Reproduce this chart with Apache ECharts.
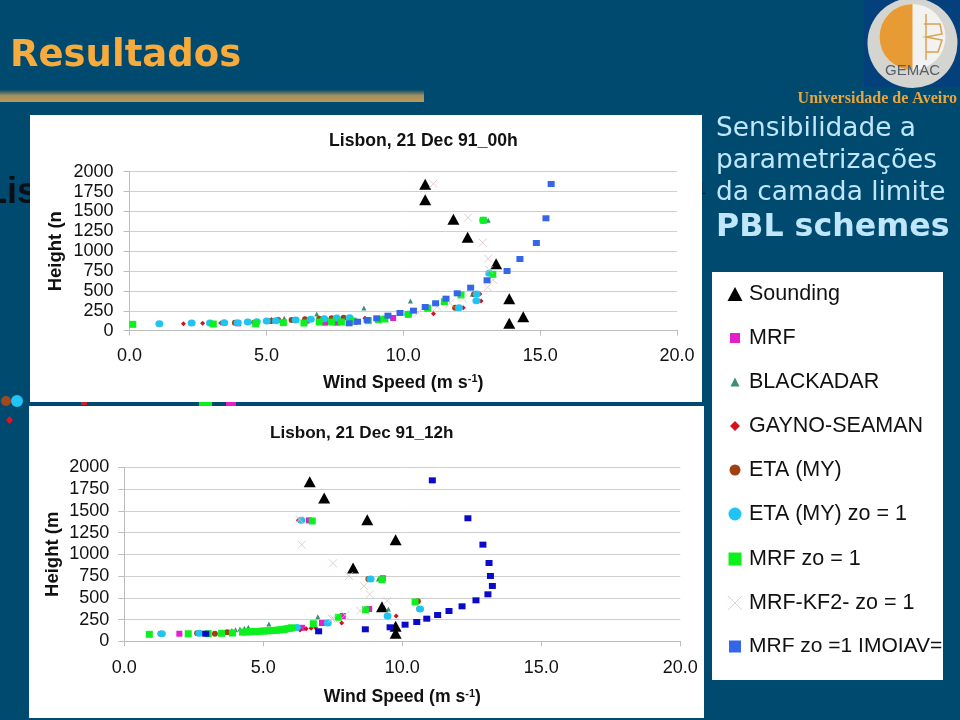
<!DOCTYPE html>
<html><head><meta charset="utf-8">
<style>html,body{margin:0;padding:0;background:#014a6f}#c{width:960px;height:720px}</style>
<script src="https://cdn.jsdelivr.net/npm/echarts@6/dist/echarts.min.js"></script>
</head><body><div id="c"></div>
<script>
const seriesNames=['Sounding','MRF','BLACKADAR','GAYNO-SEAMAN','ETA (MY)','ETA (MY) zo = 1','MRF zo = 1','MRF-KF2- zo = 1','MRF zo =1 IMOIAV='];
const titles=['Lisbon, 21 Dec 91_00h','Lisbon, 21 Dec 91_12h'];

// Chart 1: 00h  [wind speed, height]
const sounding00=[[10.8,1842],[10.8,1648],[11.83,1401],[12.35,1175],[13.39,843],[13.87,403],[14.38,176],[13.87,93]];
const mrf00=[[3.97,93],[6.47,126],[7.14,101],[7.57,101],[8.24,113],[9.63,160]];
const blackadar00=[[5.19,147],[5.43,147],[5.65,156],[6.41,150],[6.84,210],[8.56,285],[10.26,374],[12.52,458],[13.1,1389]];
const gayno00=[[1.97,88],[2.67,93],[3.33,97],[3.91,100],[4.5,106],[5.19,118],[6.41,135],[8.6,156],[11.1,214],[12.19,289],[12.84,374],[12.8,462]];
const eta00=[[3.85,100],[5.17,122],[5.43,135],[5.92,135],[6.41,143],[6.93,151],[7.38,156],[7.82,164],[11.89,290],[12.59,458]];
const etaZo00=[[1.09,88],[2.27,97],[2.94,97],[3.46,100],[3.95,100],[4.32,109],[4.65,113],[5.01,122],[5.35,126],[6.07,135],[6.62,143],[7.11,151],[7.57,160],[8.04,164],[10.18,206],[12.03,290],[12.67,377],[12.68,462],[13.14,722],[12.92,1389]];
const mrfZo00=[[0.12,80],[3.06,84],[4.61,88],[5.62,101],[6.37,97],[6.93,109],[7.38,109],[7.74,109],[8.16,122],[8.72,126],[9.09,138],[9.33,147],[10.18,206],[10.89,282],[11.5,365],[12.11,449],[13.27,709],[12.92,1389]];
const kf00=[[11.1,1849],[12.36,1421],[12.9,1107],[13.1,906],[13.14,764],[13.29,638],[13.08,546],[12.18,403],[11.7,345],[11.24,302],[10.55,226]];
const imo00=[[8.02,93],[8.33,113],[8.68,135],[9.03,156],[9.44,189],[9.88,223],[10.37,252],[10.8,298],[11.18,345],[11.56,403],[11.97,470],[12.46,541],[13.06,634],[13.79,751],[14.26,902],[14.86,1103],[15.21,1414],[15.4,1845]];

// Chart 2: 12h  [wind speed, height]
const sounding12=[[6.67,1835],[7.19,1647],[8.74,1398],[9.76,1168],[8.23,843],[9.27,398],[9.76,172],[9.76,92]];
const mrf12=[[1.98,87],[6.4,155],[7.11,210],[7.86,291],[8.81,371],[9.3,725],[6.64,1390]];
const blackadar12=[[3.87,125],[4.0,133],[4.16,140],[4.32,150],[4.46,161],[5.2,199],[6.96,283],[9.5,371],[9.14,716],[6.3,1400]];
const gayno12=[[4.7,105],[5.06,110],[5.3,113],[5.54,118],[5.78,122],[6.32,130],[6.54,145],[6.72,150],[6.88,156],[7.82,210],[9.78,291],[8.78,716],[6.26,1390]];
const eta12=[[1.3,87],[2.62,92],[3.26,87],[3.7,105],[8.78,716],[10.56,460],[10.61,371]];
const etaZo12=[[1.35,87],[2.7,92],[6.21,160],[7.32,210],[9.47,291],[10.64,371],[8.86,716],[6.37,1390]];
const mrfZo12=[[0.9,80],[2.3,87],[3.02,87],[3.5,92],[3.89,95],[4.25,105],[4.4,108],[4.52,110],[4.66,112],[4.78,113],[4.9,116],[5.02,118],[5.14,120],[5.25,122],[5.36,125],[5.47,127],[5.58,131],[5.68,134],[5.76,138],[5.85,144],[5.94,149],[6.02,155],[6.8,202],[7.7,276],[8.68,363],[10.46,452],[9.27,708],[6.76,1383]];
const kf12=[[7.46,260],[7.94,300],[7.52,264],[8.48,352],[9.46,465],[8.83,540],[8.62,636],[8.08,751],[7.51,897],[6.38,1111],[6.3,1402]];
const imo12=[[2.93,87],[6.99,115],[8.67,138],[9.56,161],[10.1,191],[10.52,222],[10.88,260],[11.27,302],[11.68,348],[12.15,402],[12.65,471],[13.08,540],[13.24,636],[13.17,751],[13.12,900],[12.9,1111],[12.36,1414],[11.08,1850]];

const data00=[sounding00,mrf00,blackadar00,gayno00,eta00,etaZo00,mrfZo00,kf00,imo00];
const data12=[sounding12,mrf12,blackadar12,gayno12,eta12,etaZo12,mrfZo12,kf12,imo12];

const CROSS='path://M0 0L10 10M10 0L0 10';
const colors=['#000000','#e41ecb','#3c8f70','#d8101e','#a04010','#1fc4f2','#0cf01e','#d8c4c4','#3366e8'];
const symbols=['triangle','rect','triangle','diamond','circle','circle','rect',CROSS,'rect'];
const sizes=[[12,11],[6,6],[5,5],[5,5],[6,6],[8,7],[7,7],[8,8],[7,6]];
const legendSizes=[[15,14],[10,10],[9,9],[10,10],[11,11],[13,13],[13,13],[14,14],[12,12]];
const legendRows=[293,337,381,425,469,513,558,602,646];
const font='"Liberation Sans",Arial,sans-serif';

function mkSeries(d,i,k){
  const c=(k===1&&i===8)?'#0a0ac8':colors[i];
  return {name:seriesNames[i],type:'scatter',xAxisIndex:k,yAxisIndex:k,data:d,symbol:symbols[i],symbolSize:sizes[i],z:i+3,
    itemStyle:i===7?{color:'none',borderColor:c,borderWidth:1}:{color:c,opacity:1},emphasis:{disabled:true}};
}
function axes(k,labelMarginX,labelMarginY,nameGapX,nameGapY,nameY,nameSize){
  const lineC='#bdbdbd';
  return {
    x:{type:'value',gridIndex:k,min:0,max:20,interval:5,splitLine:{show:false},
      axisLine:{onZero:false,lineStyle:{color:lineC,width:1}},axisTick:{length:5,lineStyle:{color:lineC}},
      axisLabel:{margin:labelMarginX,fontFamily:font,fontSize:18,color:'#111',formatter:v=>v.toFixed(1)},
      name:'{a|Wind Speed (m s}{s|-1}{a|)}',nameLocation:'middle',nameGap:nameGapX,nameMoveOverlap:false,
      nameTextStyle:{rich:{a:{fontFamily:font,fontSize:nameSize,fontWeight:'bold',color:'#111'},s:{fontFamily:font,fontSize:11,fontWeight:'bold',color:'#111',padding:[0,0,7,0]}}}},
    y:{type:'value',gridIndex:k,min:0,max:2000,interval:250,
      splitLine:{show:true,lineStyle:{color:'#cfcfcf',width:1}},
      axisLine:{show:true,onZero:false,lineStyle:{color:lineC,width:1}},axisTick:{show:true,length:6,lineStyle:{color:lineC}},
      axisLabel:{margin:labelMarginY,fontFamily:font,fontSize:18,color:'#111',formatter:v=>String(v)},
      name:nameY,nameLocation:'middle',nameRotate:90,nameGap:nameGapY,nameMoveOverlap:false,
      nameTextStyle:{fontFamily:font,fontSize:18.5,fontWeight:'bold',color:'#111'}}
  };
}
const a0=axes(0,16,16,43,64,'Height (n',18);
const a1=axes(1,18,15,47,62,'Height (m',17.6);

const g=[];
function rect(x,y,w,h,fill,z){g.push({type:'rect',z:z,silent:true,shape:{x,y,width:w,height:h},style:{fill}});}
function txt(x,y,t,f,fill,z,extra){g.push({type:'text',z:z,silent:true,style:Object.assign({x,y,text:t,font:f,fill,textVerticalAlign:'middle'},extra||{})});}
function dot(x,y,r,fill,z){g.push({type:'circle',z:z,silent:true,shape:{cx:x,cy:y,r},style:{fill}});}

// stray slide content showing behind the panels
txt(-15,193,'Lis','bold 36px "Liberation Sans"','#0a0f16',-20);
txt(697,190,'1','16px "Liberation Sans"','#0a1f30',-20);
dot(6,401,5,'#a04a1c',-20);dot(17,401,6,'#1fc4f2',-20);
g.push({type:'polygon',z:-20,silent:true,shape:{points:[[9.5,416],[13,420],[9.5,424],[6,420]]},style:{fill:'#e8101e'}});
rect(199,402,13,4,'#0cf01e',-20);rect(226,402,10,4,'#e41ecb',-20);rect(81,402,6,3,'#c82030',-20);

// panels
rect(30,115,672,287,'#ffffff',-10);
rect(29,406,675,312,'#ffffff',-10);
rect(712,272,231,408,'#ffffff',-10);

// header
txt(10,56,'Resultados','bold 37px "DejaVu Sans"','#f6ab3c',-5);
g.push({type:'rect',z:-5,silent:true,shape:{x:0,y:90,width:424,height:12},style:{fill:new echarts.graphic.LinearGradient(0,0,0,1,[{offset:0,color:'#0a4c6c'},{offset:0.45,color:'#a0905e'},{offset:1,color:'#bc9a58'}])}});

// logo
rect(864,0,96,87,'#03407c',-5);
dot(912.5,43,45,'#d4d4d0',-5);
dot(912.5,37,33,'#f2f2f0',-4);
g.push({type:'sector',z:-3,silent:true,shape:{cx:912.5,cy:37,r:33,r0:0,startAngle:Math.PI/2,endAngle:Math.PI*1.5},style:{fill:'#e89a35'}});
g.push({type:'polyline',z:-3,silent:true,shape:{points:[[926,14],[926,60]]},style:{stroke:'#dca050',lineWidth:1.5,fill:'none'}});
g.push({type:'polyline',z:-3,silent:true,shape:{points:[[924,24],[940,24],[942,34],[926,37],[942,40],[938,52],[926,52]]},style:{stroke:'#dca050',lineWidth:1.5,fill:'none'}});
txt(912.5,71,'GEMAC','15px "Liberation Sans"','#56606a',-3,{textAlign:'center'});
txt(957,99,'Universidade de Aveiro','bold 16px "Liberation Serif"','#e9a53e',-3,{textAlign:'right'});

// side text
const sideColor='#bfe6fb';
txt(716,129,'Sensibilidade a','26.4px "DejaVu Sans"',sideColor,-3);
txt(716,161,'parametrizações','26.4px "DejaVu Sans"',sideColor,-3);
txt(716,193,'da camada limite','26.4px "DejaVu Sans"',sideColor,-3);
txt(716,228,'PBL schemes','bold 31.7px "DejaVu Sans"',sideColor,-3);

const legends=seriesNames.map((n,i)=>{
  const [w,h]=legendSizes[i];
  const cx=i===7?732.5:735;
  const pad=749-(735+w/2)-5;
  return {show:true,selectedMode:false,orient:'horizontal',left:cx-w/2,top:legendRows[i]-10,padding:0,itemWidth:w,itemHeight:h,
    data:[{name:n,icon:symbols[i]}],
    textStyle:{fontFamily:font,fontSize:i===8?21:21.5,color:'#111',padding:[0,0,0,pad]},
    itemStyle:i===7?{color:'none',borderColor:colors[7],borderWidth:1}:{}};
});

const chart=echarts.init(document.getElementById('c'),null,{renderer:'canvas'});
chart.setOption({
  animation:false,
  backgroundColor:'#014a6f',
  title:[
    {text:titles[0],left:329,top:132,padding:0,textStyle:{fontFamily:font,fontSize:17.6,fontWeight:'bold',color:'#111'}},
    {text:titles[1],left:270,top:425,padding:0,textStyle:{fontFamily:font,fontSize:17.1,fontWeight:'bold',color:'#111'}}
  ],
  grid:[
    {left:129.5,top:171.7,width:547.6,height:159},
    {left:124.3,top:467.3,width:556,height:174}
  ],
  xAxis:[a0.x,a1.x],
  yAxis:[a0.y,a1.y],
  legend:legends,
  graphic:{elements:g},
  series:[...data00.map((d,i)=>mkSeries(d,i,0)),...data12.map((d,i)=>mkSeries(d,i,1))]
});
</script></body></html>
